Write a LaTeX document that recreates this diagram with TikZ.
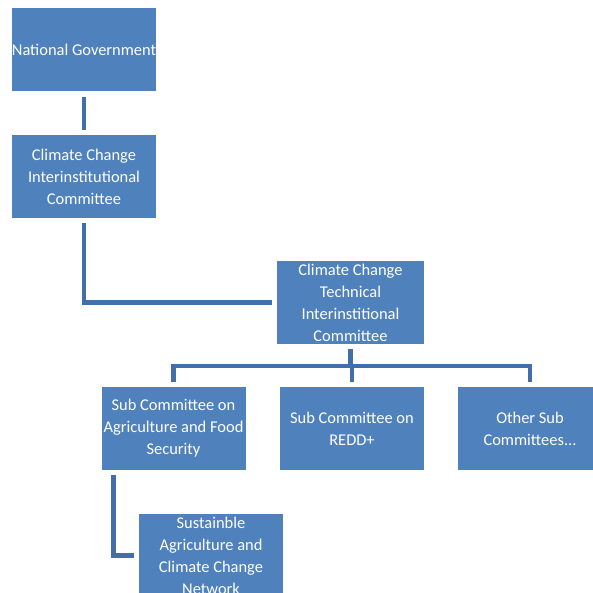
\documentclass[tikz,border=0pt]{standalone}
\usepackage{fontspec}
\setmainfont{Carlito}
\usepackage{xcolor}
\usetikzlibrary{calc}
\definecolor{boxblue}{HTML}{4F81BD}
\definecolor{linkblue}{RGB}{66,111,170}
\tikzset{
  unit/.style={fill=boxblue, text=white, align=center, inner sep=0pt,
    minimum width=144bp, minimum height=83bp,
    font=\fontsize{16.5}{22}\selectfont},
  link/.style={draw=linkblue, line width=4.5bp, shorten <=5bp, shorten >=5bp}
}

\begin{document}
\begin{tikzpicture}[x=1bp,y=-1bp]
  \useasboundingbox (0,0) rectangle (593,593);
  \node[unit] (natgov) at (84,50) {National Government};
  \node[unit] (ccic) at (84,176.5) {Climate Change\\Interinstitutional\\Committee};
  \node[unit, minimum width=147bp] (cctic) at (350.5,302.5) {Climate Change\\Technical\\Interinstitional\\Committee};
  \node[unit] (sub1) at (173.5,428.5) {Sub Committee on\\Agriculture and Food\\Security};
  \node[unit] (sub2) at (352,428.5) {Sub Committee on\\REDD+};
  \node[unit] (sub3) at (530,428.5) {Other Sub\\Committees...};
  \node[unit] (sustain) at (211,555.5) {Sustainble\\Agriculture and\\Climate Change\\Network};
  \coordinate (bus) at (0,366);
  \draw[link] (natgov) -- (ccic);
  \draw[link] (ccic.south) |- (cctic.west);
  \foreach \sub in {sub1,sub2,sub3}
    \draw[link] (cctic.south) -- (cctic.south |- bus) -| (\sub.north);
  \draw[link] ([xshift=12bp]sub1.south west) |- (sustain.west);
\end{tikzpicture}
\end{document}
